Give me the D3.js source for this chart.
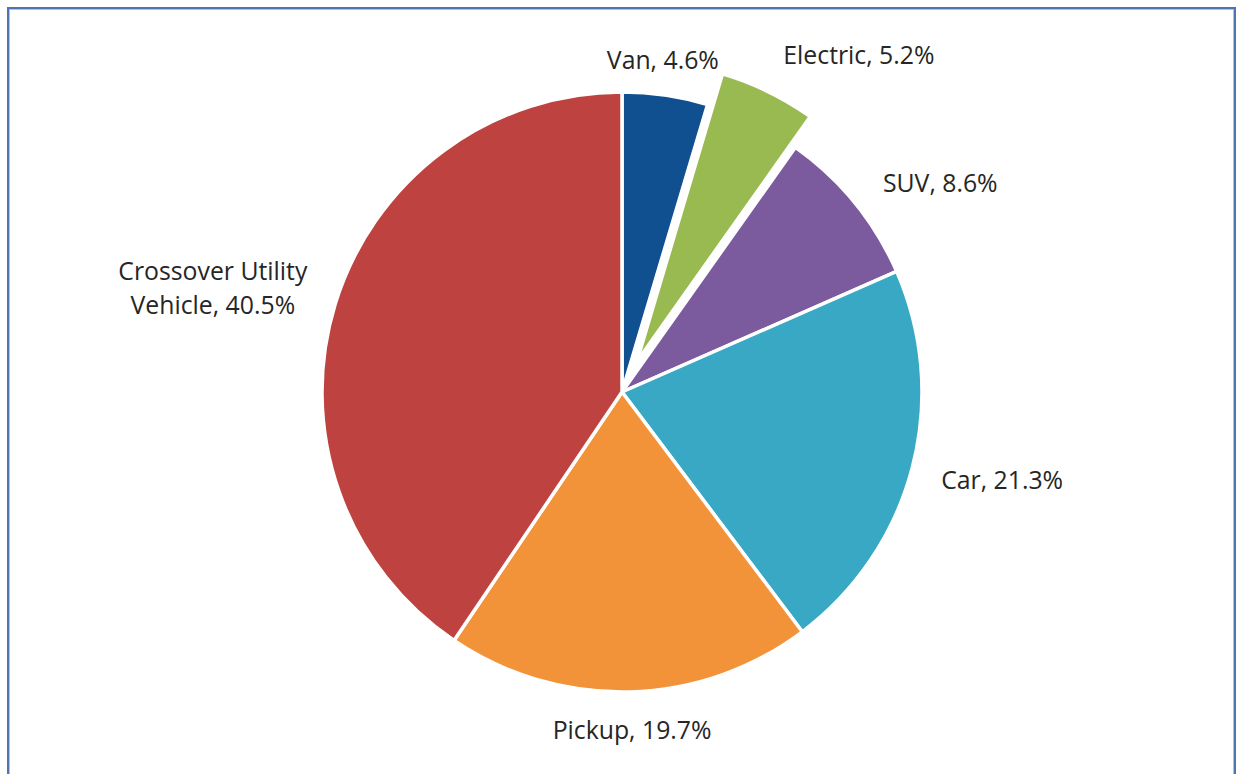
<!DOCTYPE html>
<html>
<head>
<meta charset="utf-8">
<script src="https://cdn.jsdelivr.net/npm/d3@7"></script>
<style>
  html, body { margin: 0; padding: 0; background: #fff; }
  svg { display: block; }
</style>
</head>
<body>
<svg id="chart" width="1236" height="774"></svg>
<script>
// ---- data ----
const categories = ["Van", "Electric", "SUV", "Car", "Pickup", "Crossover Utility Vehicle"];
const shares = [4.6, 5.2, 8.6, 21.3, 19.7, 40.5];
const labelLines = [["Van, 4.6%"], ["Electric, 5.2%"], ["SUV, 8.6%"], ["Car, 21.3%"], ["Pickup, 19.7%"], ["Crossover Utility", "Vehicle, 40.5%"]];
const colors = ["#105091", "#99ba50", "#7b5b9e", "#38a8c5", "#f39339", "#be4340"];
const exploded = [false, true, false, false, false, false];

// ---- layout (not data) ----
const W = 1236, H = 774;
const cx = 622, cy = 392, R = 300;
const explodeDist = 34;
const labelRadius = 330;
const labelAngleNudge = [-2, 6, 3, 0, 0, -0.5];   // degrees
const labelRadiusNudge = [-13, 14, 7, 2, -9, 2];
const fontSize = 24.8, lineH = 34;

const svg = d3.select("#chart");

// frame
const dark = "#4c76b2", light = "#a9c3e6";
svg.append("line").attr("x1", 7).attr("x2", 1236).attr("y1", 8).attr("y2", 8).attr("stroke", dark).attr("stroke-width", 2);
svg.append("line").attr("x1", 9).attr("x2", 1234).attr("y1", 9.5).attr("y2", 9.5).attr("stroke", light).attr("stroke-width", 1);
svg.append("line").attr("x1", 8).attr("x2", 8).attr("y1", 7).attr("y2", H).attr("stroke", dark).attr("stroke-width", 2);
svg.append("line").attr("x1", 9.5).attr("x2", 9.5).attr("y1", 9).attr("y2", H).attr("stroke", light).attr("stroke-width", 1);
svg.append("line").attr("x1", 1235).attr("x2", 1235).attr("y1", 7).attr("y2", H).attr("stroke", dark).attr("stroke-width", 2);
svg.append("line").attr("x1", 1233.5).attr("x2", 1233.5).attr("y1", 9).attr("y2", H).attr("stroke", light).attr("stroke-width", 1);

const data = categories.map((c, i) => ({ cat: c, value: shares[i], i }));
const pie = d3.pie().value(d => d.value).sort(null);
const arcs = pie(data);
const arc = d3.arc().innerRadius(0).outerRadius(R);

const g = svg.append("g").attr("transform", `translate(${cx},${cy})`);

g.selectAll("path.slice").data(arcs).join("path")
  .attr("class", "slice")
  .attr("d", arc)
  .attr("fill", d => colors[d.data.i])
  .attr("stroke", "#fff")
  .attr("stroke-width", 3.5)
  .attr("stroke-linejoin", "round")
  .attr("transform", d => {
    if (!exploded[d.data.i]) return null;
    const a = (d.startAngle + d.endAngle) / 2;
    return `translate(${explodeDist * Math.sin(a)},${-explodeDist * Math.cos(a)})`;
  });

// labels
const labels = g.selectAll("text.lbl").data(arcs).join("text")
  .attr("class", "lbl")
  .attr("font-family", "'Open Sans', 'Noto Sans', sans-serif")
  .attr("font-size", fontSize)
  .attr("fill", "#262626")
  .attr("text-anchor", "middle");

labels.each(function(d) {
  const i = d.data.i;
  const lines = labelLines[i];
  const t = d3.select(this);
  lines.forEach((ln, k) => {
    t.append("tspan").attr("x", 0).attr("dy", k === 0 ? 0 : lineH).text(ln);
  });
  const bb = this.getBBox();
  const w = bb.width, h = lines.length * lineH;
  const a = (d.startAngle + d.endAngle) / 2 + labelAngleNudge[i] * Math.PI / 180;
  const r = labelRadius + labelRadiusNudge[i];
  const mid = (d.startAngle + d.endAngle) / 2;
  let ox = 0, oy = 0;
  if (exploded[i]) { ox = explodeDist * Math.sin(mid); oy = -explodeDist * Math.cos(mid); }
  const px = r * Math.sin(a) + ox + (w / 2) * Math.sin(a);
  const py = -r * Math.cos(a) + oy - (h / 2) * Math.cos(a);
  const firstBaseline = py - h / 2 + lineH / 2 + fontSize * 0.36;
  t.attr("transform", `translate(${px},${firstBaseline})`);
});
</script>
</body>
</html>
